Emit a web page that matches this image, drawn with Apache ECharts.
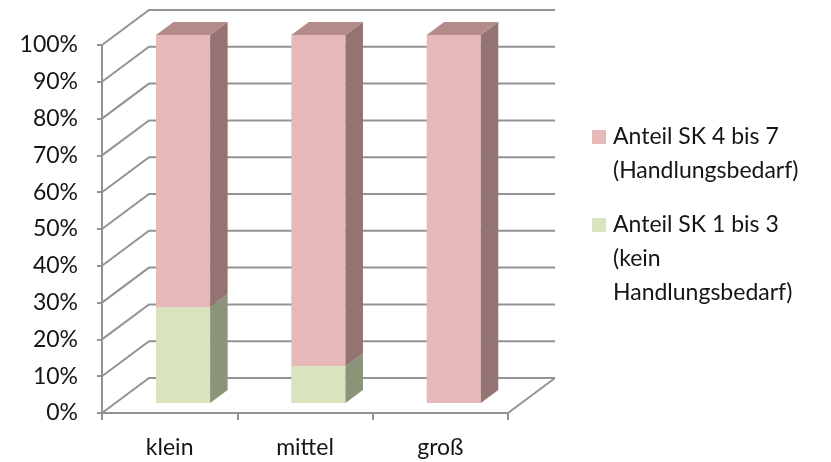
<!DOCTYPE html>
<html>
<head>
<meta charset="utf-8">
<script src="https://cdn.jsdelivr.net/npm/echarts@6/dist/echarts.min.js"></script>
<style>
  html, body { margin: 0; padding: 0; background: #ffffff; }
  #chart { width: 831px; height: 462px; }
</style>
</head>
<body>
<div id="chart"></div>
<script>
// Size classes and the share of each condition group (percent)
const categories = ['klein', 'mittel', 'groß'];
const shareSK1to3 = [26, 10, 0];    // Anteil SK 1 bis 3 (kein Handlungsbedarf)
const shareSK4to7 = [74, 90, 100];  // Anteil SK 4 bis 7 (Handlungsbedarf)
const seriesNames = ['Anteil SK 4 bis 7 (Handlungsbedarf)', 'Anteil SK 1 bis 3 (kein Handlungsbedarf)'];
const legendLabels = ['Anteil SK 4 bis 7\n(Handlungsbedarf)', 'Anteil SK 1 bis 3\n(kein\nHandlungsbedarf)'];
const percentTicks = [0, 10, 20, 30, 40, 50, 60, 70, 80, 90, 100];

// Oblique projection used for the pseudo-3D look (pixels)
const WALL_DX = 47, WALL_DY = -35;      // front plane -> back wall
const BAR_DX = 13.4, BAR_DY = -10;      // front plane -> bar front face
const DEPTH_DX = 17.5, DEPTH_DY = -13;  // bar front face -> bar back face
const BAR_RATIO = 0.4;                  // bar width relative to category band

const FONT = 'Lato, "Liberation Sans", sans-serif';
const GRID_COLOR = '#939393';
const TEXT_COLOR = '#151515';

const palette = {
  pink:  { front: '#E6B9B8', side: '#937473', top: '#B38B8A' },
  green: { front: '#D7E4BD', side: '#8A9479', top: '#ABB697' }
};

const chart = echarts.init(document.getElementById('chart'), null, { renderer: 'canvas' });

function wallItem(params, api) {
  const v = api.value(1);
  const band = api.size([1, 0])[0];
  const pL = api.coord([0, v]);
  const pR = api.coord([categories.length - 1, v]);
  const xL = pL[0] - band / 2;
  const xR = pR[0] + band / 2;
  const y = pL[1];
  const style = { stroke: GRID_COLOR, lineWidth: 2, fill: null };
  const children = [
    { type: 'polyline', shape: { points: [[xL, y], [xL + WALL_DX, y + WALL_DY], [xR + WALL_DX, y + WALL_DY]] }, style: style }
  ];
  if (v === 0) {
    children.push({ type: 'line', shape: { x1: xR, y1: y, x2: xR + WALL_DX, y2: y + WALL_DY }, style: style });
  }
  return { type: 'group', children: children };
}

function barRenderer(colors, drawTop) {
  return function (params, api) {
    const ci = api.value(0), lo = api.value(1), hi = api.value(2);
    if (hi <= lo) return null;
    const band = api.size([1, 0])[0];
    const w = band * BAR_RATIO;
    const pLo = api.coord([ci, lo]);
    const pHi = api.coord([ci, hi]);
    const x1 = pLo[0] + BAR_DX - w / 2, x2 = x1 + w;
    const y0 = pLo[1] + BAR_DY, y1 = pHi[1] + BAR_DY;
    const children = [
      { type: 'polygon', shape: { points: [[x1, y0], [x2, y0], [x2, y1], [x1, y1]] }, style: { fill: colors.front } },
      { type: 'polygon', shape: { points: [[x2, y0], [x2 + DEPTH_DX, y0 + DEPTH_DY], [x2 + DEPTH_DX, y1 + DEPTH_DY], [x2, y1]] }, style: { fill: colors.side } }
    ];
    if (drawTop) {
      children.push({ type: 'polygon', shape: { points: [[x1, y1], [x2, y1], [x2 + DEPTH_DX, y1 + DEPTH_DY], [x1 + DEPTH_DX, y1 + DEPTH_DY]] }, style: { fill: colors.top } });
    }
    return { type: 'group', children: children };
  };
}

const greenData = categories.map((c, i) => [i, 0, shareSK1to3[i]]);
const pinkData = categories.map((c, i) => [i, shareSK1to3[i], shareSK1to3[i] + shareSK4to7[i]]);

chart.setOption({
  animation: false,
  backgroundColor: '#ffffff',
  grid: { left: 102, right: 323, top: 45, bottom: 49 },
  xAxis: {
    type: 'category',
    data: categories,
    boundaryGap: true,
    axisLine: { lineStyle: { color: GRID_COLOR, width: 2 } },
    axisTick: { show: true, length: 7, lineStyle: { color: GRID_COLOR, width: 2 } },
    axisLabel: { fontFamily: FONT, fontSize: 23, color: TEXT_COLOR, margin: 23 },
    splitLine: { show: false }
  },
  yAxis: {
    type: 'value',
    min: 0, max: 100, interval: 10,
    axisLine: { show: true, lineStyle: { color: GRID_COLOR, width: 2 } },
    axisTick: { show: true, length: 5, lineStyle: { color: GRID_COLOR, width: 2 } },
    axisLabel: { formatter: '{value}%', fontFamily: FONT, fontSize: 23, color: TEXT_COLOR, margin: 24 },
    splitLine: { show: false }
  },
  series: [
    {
      type: 'custom', name: 'walls', z: 1, silent: true,
      renderItem: wallItem,
      data: percentTicks.map(v => [0, v])
    },
    {
      type: 'custom', name: seriesNames[1], z: 2,
      renderItem: barRenderer(palette.green, false),
      encode: { x: 0, y: [1, 2] },
      data: greenData
    },
    {
      type: 'custom', name: seriesNames[0], z: 3,
      renderItem: barRenderer(palette.pink, true),
      encode: { x: 0, y: [1, 2] },
      data: pinkData
    }
  ],
  graphic: [
    { type: 'rect', shape: { x: 592, y: 130, width: 14, height: 14 }, style: { fill: palette.pink.front } },
    { type: 'text', x: 613, y: 120, style: { text: legendLabels[0], font: '23px ' + FONT, lineHeight: 34, fill: TEXT_COLOR } },
    { type: 'rect', shape: { x: 592, y: 218, width: 14, height: 14 }, style: { fill: palette.green.front } },
    { type: 'text', x: 613, y: 208, style: { text: legendLabels[1], font: '23px ' + FONT, lineHeight: 34, fill: TEXT_COLOR } }
  ]
});
</script>
</body>
</html>
